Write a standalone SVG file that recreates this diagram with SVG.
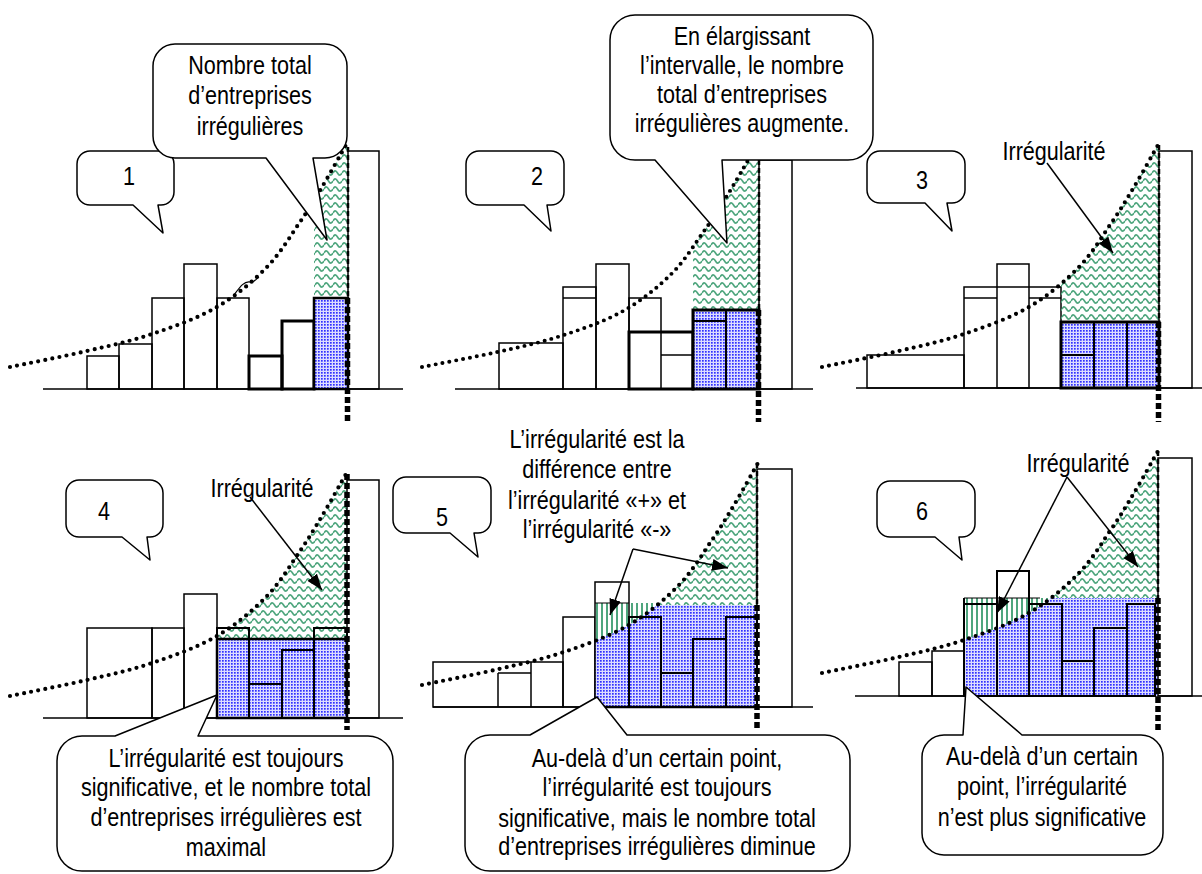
<svg xmlns="http://www.w3.org/2000/svg" width="1202" height="874" viewBox="0 0 1202 874">
<defs>
<style>
.t{font-family:"Liberation Sans",Arial,sans-serif;font-size:26px;fill:#000;text-anchor:middle}
.bar{fill:none;stroke:#000;stroke-width:1.5}
.bk{fill:none;stroke:#000;stroke-width:3}
.bi{fill:none;stroke:#000;stroke-width:2}
.base{stroke:#000;stroke-width:1.5}
.curve{fill:none;stroke:#000;stroke-width:4.2;stroke-linecap:round;stroke-dasharray:0 7.2}
.dthin{stroke:#000;stroke-width:2.5;stroke-dasharray:5 3}
.dthick{stroke:#000;stroke-width:5.5;stroke-dasharray:6 3}
.co{fill:#fff;stroke:#000;stroke-width:1.5;stroke-linejoin:round}
.arr{stroke:#000;stroke-width:1.5;fill:none;marker-end:url(#ah)}
.wave{fill:url(#wave)}
.dots{fill:url(#dots)}
.stripe{fill:url(#stripe)}
</style>
<marker id="ah" viewBox="0 0 16 12" refX="16" refY="6" markerWidth="16" markerHeight="12" markerUnits="userSpaceOnUse" orient="auto"><path d="M0 0 L16 6 L0 12 Z" fill="#000"/></marker>
<pattern id="wave" width="9" height="8" patternUnits="userSpaceOnUse"><path d="M0 5 Q2.25 0.8 4.5 5 T9 5" fill="none" stroke="#4fa67e" stroke-width="1.6"/></pattern>
<pattern id="dots" width="3" height="3" patternUnits="userSpaceOnUse"><rect width="3" height="3" fill="#dcdcff"/><rect width="1.7" height="1.7" fill="#3030ff"/></pattern>
<pattern id="stripe" width="5" height="10" patternUnits="userSpaceOnUse"><rect width="5" height="10" fill="#fff"/><rect x="1" width="2" height="10" fill="#4fa67e"/></pattern>
<path id="cv" d="M0 0 C12.8 -2.7 53.3 -10.5 77 -16 C100.7 -21.5 120.3 -25.7 142 -33 C163.7 -40.3 187.8 -48.8 207 -60 C226.2 -71.2 243.2 -85.8 257 -100 C270.8 -114.2 280.8 -131.7 290 -145 C299.2 -158.3 304.3 -167.2 312 -180 C319.7 -192.8 332 -215 336 -222"/>
<path id="br" d="M0 0 C12.8 -2.7 53.3 -10.5 77 -16 C100.7 -21.5 120.3 -25.7 142 -33 C163.7 -40.3 187.8 -48.8 207 -60 C226.2 -71.2 243.2 -85.8 257 -100 C270.8 -114.2 280.8 -131.7 290 -145 C299.2 -158.3 304.3 -167.2 312 -180 C319.7 -192.8 332 -215 336 -222 L420 -222 L420 80 L-20 80 L-20 0 Z"/>
<path id="al" d="M0 0 C12.8 -2.7 53.3 -10.5 77 -16 C100.7 -21.5 120.3 -25.7 142 -33 C163.7 -40.3 187.8 -48.8 207 -60 C226.2 -71.2 243.2 -85.8 257 -100 C270.8 -114.2 280.8 -131.7 290 -145 C299.2 -158.3 304.3 -167.2 312 -180 C319.7 -192.8 332 -215 336 -222 L336 -320 L-20 -320 L-20 0 Z"/>
<clipPath id="br1"><use href="#br" transform="translate(10 367)"/></clipPath>
<clipPath id="br2"><use href="#br" transform="translate(422 367) scale(0.97 0.93)"/></clipPath>
<clipPath id="br3"><use href="#br" transform="translate(822 367)"/></clipPath>
<clipPath id="br4"><use href="#br" transform="translate(10 696)"/></clipPath>
<clipPath id="br5"><use href="#br" transform="translate(422 685)"/></clipPath>
<clipPath id="al5"><use href="#al" transform="translate(422 685)"/></clipPath>
<clipPath id="br6"><use href="#br" transform="translate(822 673)"/></clipPath>
<clipPath id="al6"><use href="#al" transform="translate(822 673)"/></clipPath>
</defs>
<rect width="1202" height="874" fill="#fff"/>

<!-- Panel 1 -->
<g id="panel1">
<line class="base" x1="43" y1="389" x2="403" y2="389"/>
<rect class="bar" x="87" y="356" width="32" height="33"/>
<rect class="bar" x="119" y="344" width="33" height="45"/>
<rect class="bar" x="152" y="298" width="32" height="91"/>
<rect class="bar" x="184" y="264" width="33" height="125"/>
<rect class="bar" x="217" y="298" width="32" height="91"/>
<rect class="bk" x="249" y="356" width="33" height="33"/>
<rect class="bk" x="282" y="321" width="32" height="68"/>
<rect class="wave" x="314" y="140" width="34" height="158" clip-path="url(#br1)"/>
<rect class="dots" x="314" y="298" width="34" height="91" stroke="#000" stroke-width="2.5"/>
<rect class="bar" x="348" y="151" width="31" height="238"/>
<line class="dthin" x1="348" y1="147" x2="348" y2="298"/>
<line class="dthick" x1="347.5" y1="298" x2="347.5" y2="423"/>
<use href="#cv" class="curve" transform="translate(10 367)"/>
<path d="M234 295 C240 287 244 281 250 282 C254 283 256 279 259 277" fill="none" stroke="#000" stroke-width="1.2"/>
</g>
<g id="callout1num">
<path class="co" d="M90 151 H161 A13 13 0 0 1 174 164 V192 A13 13 0 0 1 161 205 H158 L163 233 L133 205 H90 A13 13 0 0 1 77 192 V164 A13 13 0 0 1 90 151 Z"/>
<g transform="translate(129 0) scale(0.83 1)"><text class="t" x="0" y="185">1</text></g>
</g>
<g id="callout1">
<path class="co" d="M175 44 H325 A22 22 0 0 1 347 66 V136 A22 22 0 0 1 325 158 H313 L327 240 L266 158 H175 A22 22 0 0 1 153 136 V66 A22 22 0 0 1 175 44 Z"/>
<g transform="translate(250 0) scale(0.83 1)"><text class="t"><tspan x="0" y="74">Nombre total</tspan><tspan x="0" y="104">d’entreprises</tspan><tspan x="0" y="135">irrégulières</tspan></text></g>
</g>

<!-- Panel 2 -->
<g id="panel2">
<line class="base" x1="455" y1="389" x2="813" y2="389"/>
<rect class="bar" x="499" y="343" width="64" height="46"/>
<rect class="bar" x="563" y="287" width="33" height="102"/>
<line class="base" x1="563" y1="298" x2="596" y2="298"/>
<rect class="bar" x="596" y="264" width="33" height="125"/>
<rect class="bar" x="629" y="298" width="32" height="91"/>
<rect class="bk" x="629" y="332" width="64" height="57"/>
<line class="base" x1="661" y1="355" x2="693" y2="355"/>
<rect class="wave" x="693" y="140" width="66" height="170" clip-path="url(#br2)"/>
<rect class="dots" x="693" y="310" width="66" height="79" stroke="#000" stroke-width="3"/>
<line x1="726" y1="310" x2="726" y2="389" stroke="#000" stroke-width="2"/>
<line x1="693" y1="321" x2="726" y2="321" stroke="#000" stroke-width="2"/>
<rect class="bar" x="759" y="160" width="33" height="229"/>
<line class="dthin" x1="759" y1="160" x2="759" y2="310"/>
<line class="dthick" x1="758.5" y1="310" x2="758.5" y2="422"/>
<use href="#cv" class="curve" transform="translate(422 367) scale(0.97 0.93)"/>
</g>
<g id="callout2num">
<path class="co" d="M479 151 H551 A13 13 0 0 1 564 164 V192 A13 13 0 0 1 551 205 H547 L551 231 L524 205 H479 A13 13 0 0 1 466 192 V164 A13 13 0 0 1 479 151 Z"/>
<g transform="translate(537 0) scale(0.83 1)"><text class="t" x="0" y="185">2</text></g>
</g>
<g id="callout2">
<path class="co" d="M635 15 H848 A25 25 0 0 1 873 40 V135 A25 25 0 0 1 848 160 H722 L727 243 L655 160 H635 A25 25 0 0 1 610 135 V40 A25 25 0 0 1 635 15 Z"/>
<g transform="translate(742 0) scale(0.83 1)"><text class="t"><tspan x="0" y="45">En élargissant</tspan><tspan x="0" y="74">l’intervalle, le nombre</tspan><tspan x="0" y="103">total d’entreprises</tspan><tspan x="0" y="132">irrégulières augmente.</tspan></text></g>
</g>

<!-- Panel 3 -->
<g id="panel3">
<line class="base" x1="856" y1="388" x2="1202" y2="388"/>
<rect class="bar" x="867" y="355" width="97" height="33"/>
<rect class="bar" x="964" y="287" width="97" height="101"/>
<rect class="bar" x="997" y="264" width="32" height="124"/>
<line class="base" x1="964" y1="298" x2="997" y2="298"/>
<line class="base" x1="1029" y1="298" x2="1061" y2="298"/>
<rect class="wave" x="1061" y="130" width="98" height="192" clip-path="url(#br3)"/>
<rect class="dots" x="1061" y="322" width="98" height="66" stroke="#000" stroke-width="3"/>
<line x1="1094" y1="322" x2="1094" y2="388" stroke="#000" stroke-width="2"/>
<line x1="1127" y1="322" x2="1127" y2="388" stroke="#000" stroke-width="2"/>
<line x1="1061" y1="355" x2="1094" y2="355" stroke="#000" stroke-width="2"/>
<rect class="bar" x="1159" y="151" width="33" height="237"/>
<line class="dthin" x1="1159" y1="145" x2="1159" y2="322"/>
<line class="dthick" x1="1158.5" y1="322" x2="1158.5" y2="422"/>
<use href="#cv" class="curve" transform="translate(822 367)"/>
<g transform="translate(1054 0) scale(0.83 1)"><text class="t" x="0" y="160">Irrégularité</text></g>
</g>
<g id="callout3num">
<path class="co" d="M880 151 H952 A13 13 0 0 1 965 164 V190 A13 13 0 0 1 952 203 H947 L952 231 L925 203 H880 A13 13 0 0 1 867 190 V164 A13 13 0 0 1 880 151 Z"/>
<g transform="translate(922 0) scale(0.83 1)"><text class="t" x="0" y="189">3</text></g>
</g>

<!-- Panel 4 -->
<g id="panel4">
<line class="base" x1="43" y1="718" x2="403" y2="718"/>
<rect class="bar" x="87" y="628" width="65" height="90"/>
<rect class="bar" x="152" y="628" width="32" height="90"/>
<rect class="bar" x="184" y="594" width="33" height="124"/>
<rect class="wave" x="217" y="460" width="130" height="179" clip-path="url(#br4)"/>
<rect class="dots" x="217" y="639" width="130" height="79" stroke="#000" stroke-width="2.5"/>
<rect class="bi" x="217" y="628" width="32" height="90"/>
<rect class="bi" x="249" y="684" width="33" height="34"/>
<rect class="bi" x="282" y="650" width="32" height="68"/>
<rect class="bi" x="314" y="628" width="33" height="90"/>
<rect class="bar" x="347" y="480" width="32" height="238"/>
<line class="dthick" x1="347" y1="474" x2="347" y2="730"/>
<use href="#cv" class="curve" transform="translate(10 696)"/>
<g transform="translate(262 0) scale(0.83 1)"><text class="t" x="0" y="497">Irrégularité</text></g>
</g>
<g id="callout4num">
<path class="co" d="M79 480 H150 A13 13 0 0 1 163 493 V524 A13 13 0 0 1 150 537 H147 L150 560 L122 537 H79 A13 13 0 0 1 66 524 V493 A13 13 0 0 1 79 480 Z"/>
<g transform="translate(104 0) scale(0.83 1)"><text class="t" x="0" y="520">4</text></g>
</g>
<g id="callout4">
<path class="co" d="M82 736 H115 L217 695 L198 736 H368 A25 25 0 0 1 393 761 V846 A25 25 0 0 1 368 871 H82 A25 25 0 0 1 57 846 V761 A25 25 0 0 1 82 736 Z"/>
<g transform="translate(226 0) scale(0.83 1)"><text class="t"><tspan x="0" y="767">L’irrégularité est toujours</tspan><tspan x="0" y="796">significative, et le nombre total</tspan><tspan x="0" y="826">d’entreprises irrégulières est</tspan><tspan x="0" y="856">maximal</tspan></text></g>
</g>

<!-- Panel 5 -->
<g id="panel5">
<line class="base" x1="433" y1="707" x2="813" y2="707"/>
<rect class="bar" x="433" y="662" width="130" height="45"/>
<line class="base" x1="498" y1="673" x2="498" y2="707"/>
<line class="base" x1="531" y1="662" x2="531" y2="707"/>
<line class="base" x1="498" y1="673" x2="531" y2="673"/>
<rect class="bar" x="563" y="617" width="32" height="90"/>
<rect class="wave" x="595" y="440" width="162" height="165" clip-path="url(#br5)"/>
<rect class="stripe" x="595" y="603" width="67" height="50" clip-path="url(#al5)"/>
<rect class="dots" x="595" y="605" width="162" height="102" clip-path="url(#br5)"/>
<rect class="bar" x="595" y="582" width="34" height="125"/>
<line x1="595" y1="603" x2="629" y2="603" stroke="#000" stroke-width="1.2"/>
<rect class="bi" x="629" y="617" width="32" height="90"/>
<rect class="bi" x="661" y="673" width="32" height="34"/>
<rect class="bi" x="693" y="639" width="33" height="68"/>
<rect class="bi" x="726" y="617" width="31" height="90"/>
<line x1="595" y1="707" x2="757" y2="707" stroke="#000" stroke-width="2.5"/>
<rect class="bar" x="757" y="469" width="35" height="238"/>
<line class="dthin" x1="757" y1="463" x2="757" y2="605"/>
<line class="dthick" x1="757" y1="605" x2="757" y2="730"/>
<use href="#cv" class="curve" transform="translate(422 685)"/>
<g transform="translate(597 0) scale(0.83 1)"><text class="t"><tspan x="0" y="448">L’irrégularité est la</tspan><tspan x="0" y="478">différence entre</tspan><tspan x="0" y="509">l’irrégularité «+» et</tspan><tspan x="0" y="538">l’irrégularité «-»</tspan></text></g>
</g>
<g id="callout5num">
<path class="co" d="M406 477 H478 A13 13 0 0 1 491 490 V520 A13 13 0 0 1 478 533 H474 L478 557 L450 533 H406 A13 13 0 0 1 393 520 V490 A13 13 0 0 1 406 477 Z"/>
<g transform="translate(442 0) scale(0.83 1)"><text class="t" x="0" y="526">5</text></g>
</g>
<g id="callout5">
<path class="co" d="M490 735 H530 L597 697 L627 735 H825 A25 25 0 0 1 850 760 V846 A25 25 0 0 1 825 871 H490 A25 25 0 0 1 465 846 V760 A25 25 0 0 1 490 735 Z"/>
<g transform="translate(657 0) scale(0.83 1)"><text class="t"><tspan x="0" y="767">Au-delà d’un certain point,</tspan><tspan x="0" y="796">l’irrégularité est toujours</tspan><tspan x="0" y="827">significative, mais le nombre total</tspan><tspan x="0" y="855">d’entreprises irrégulières diminue</tspan></text></g>
</g>

<!-- Panel 6 -->
<g id="panel6">
<line class="base" x1="855" y1="696" x2="1202" y2="696"/>
<rect class="bar" x="899" y="662" width="33" height="34"/>
<rect class="bar" x="932" y="651" width="32" height="45"/>
<rect class="bar" x="997" y="571" width="32" height="125"/>
<rect class="wave" x="964" y="430" width="194" height="168" clip-path="url(#br6)"/>
<rect class="stripe" x="964" y="598" width="100" height="50" clip-path="url(#al6)"/>
<rect class="dots" x="964" y="598" width="194" height="98" clip-path="url(#br6)"/>
<line x1="964" y1="598" x2="1040" y2="598" stroke="#000" stroke-width="1"/>
<line x1="964" y1="598" x2="964" y2="696" stroke="#000" stroke-width="2"/>
<rect class="bi" x="964" y="604" width="33" height="92"/>
<rect class="bi" x="997" y="571" width="32" height="125"/>
<rect class="bi" x="1029" y="604" width="33" height="92"/>
<rect class="bi" x="1062" y="661" width="32" height="35"/>
<rect class="bi" x="1094" y="628" width="33" height="68"/>
<rect class="bi" x="1127" y="604" width="28" height="92"/>
<rect class="bar" x="1158" y="458" width="34" height="238"/>
<line class="dthin" x1="1158" y1="451" x2="1158" y2="598"/>
<line class="dthick" x1="1158" y1="598" x2="1158" y2="730"/>
<use href="#cv" class="curve" transform="translate(822 673)"/>
<g transform="translate(1078 0) scale(0.83 1)"><text class="t" x="0" y="472">Irrégularité</text></g>
</g>
<g id="callout6num">
<path class="co" d="M890 481 H962 A13 13 0 0 1 975 494 V524 A13 13 0 0 1 962 537 H959 L962 560 L935 537 H890 A13 13 0 0 1 877 524 V494 A13 13 0 0 1 890 481 Z"/>
<g transform="translate(922 0) scale(0.83 1)"><text class="t" x="0" y="520">6</text></g>
</g>
<g id="callout6">
<path class="co" d="M944 735 H963 L966 687 L1022 735 H1141 A22 22 0 0 1 1163 757 V833 A22 22 0 0 1 1141 855 H944 A22 22 0 0 1 922 833 V757 A22 22 0 0 1 944 735 Z"/>
<g transform="translate(1042 0) scale(0.83 1)"><text class="t"><tspan x="0" y="765">Au-delà d’un certain</tspan><tspan x="0" y="795">point, l’irrégularité</tspan><tspan x="0" y="826">n’est plus significative</tspan></text></g>
</g>

<g id="connectors">
<line class="arr" x1="1047" y1="163" x2="1113" y2="253"/>
<line class="arr" x1="250" y1="497" x2="322" y2="590"/>
<line class="arr" x1="633" y1="549" x2="610" y2="615"/>
<line class="arr" x1="633" y1="549" x2="728" y2="568"/>
<line class="arr" x1="1067" y1="477" x2="997" y2="613"/>
<line class="arr" x1="1067" y1="477" x2="1138" y2="567"/>
</g>
</svg>
